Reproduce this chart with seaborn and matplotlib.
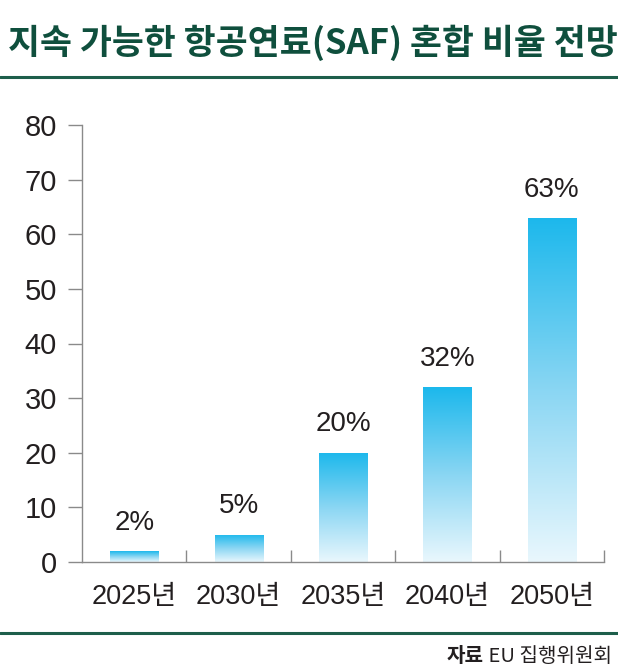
import numpy as np
import pandas as pd
import matplotlib
matplotlib.use("Agg")
import matplotlib.pyplot as plt
import seaborn as sns
from matplotlib.colors import LinearSegmentedColormap
from matplotlib.ticker import FixedLocator

years = ["2025년", "2030년", "2035년", "2040년", "2050년"]
values = [2, 5, 20, 32, 63]
bar_labels = ["2%", "5%", "20%", "32%", "63%"]
yticks = [0, 10, 20, 30, 40, 50, 60, 70, 80]
title = "지속 가능한 항공연료(SAF) 혼합 비율 전망"
source_bold = "자료"
source_rest = " EU 집행위원회"

sns.set_theme(style="white")
plt.rcParams["font.family"] = ["Noto Sans CJK KR", "DejaVu Sans"]

GREEN = "#0f4f3d"
TEXT = "#231f20"
AX = "#8a8a8a"

fig = plt.figure(figsize=(6.18, 6.70), dpi=100)
ax = fig.add_axes([82/618, 1-562/670, (604-82)/618, (562-125)/670])

df = pd.DataFrame({"year": years, "value": values})
sns.barplot(data=df, x="year", y="value", ax=ax, width=0.46, color="#1cb8ec",
            edgecolor="none", linewidth=0)

cmap = LinearSegmentedColormap.from_list("g", ["#e9f7fd", "#8ad6f3", "#1cb8ec"])
grad = np.linspace(0, 1, 256).reshape(-1, 1)
for p in ax.patches:
    x0, y0 = p.get_x(), p.get_y()
    w, h = p.get_width(), p.get_height()
    p.set_facecolor("none")
    im = ax.imshow(grad, cmap=cmap, aspect="auto", origin="lower",
                   extent=[x0, x0 + w, y0, y0 + h], zorder=2)
    im.set_clip_path(p)

for i, (v, lab) in enumerate(zip(values, bar_labels)):
    ax.annotate(lab, (i, v), xytext=(0, 11), textcoords="offset points",
                ha="center", va="bottom", fontsize=20, color=TEXT,
                family=["Liberation Sans", "DejaVu Sans"])

ax.set_xlim(-0.5, 4.5)
ax.set_ylim(0, 80)
ax.set_yticks(yticks)
ax.set_yticklabels([str(t) for t in yticks], fontsize=21, color=TEXT,
                   family=["Liberation Sans", "DejaVu Sans"])
ax.set_xticks(range(len(years)))
ax.set_xticklabels(years, fontsize=19.5, color=TEXT,
                   family=["Liberation Sans", "Noto Sans CJK KR", "DejaVu Sans"])
ax.xaxis.set_minor_locator(FixedLocator([0.5, 1.5, 2.5, 3.5, 4.5]))
ax.tick_params(axis="x", which="major", length=0, pad=16)
ax.tick_params(axis="x", which="minor", direction="in", length=9, width=1, color=AX, bottom=True)
ax.tick_params(axis="y", which="major", direction="out", length=10, width=1, color=AX, pad=8, left=True)
ax.set_xlabel("")
ax.set_ylabel("")
for s in ["top", "right"]:
    ax.spines[s].set_visible(False)
for s in ["left", "bottom"]:
    ax.spines[s].set_color(AX)
    ax.spines[s].set_linewidth(1)
ax.set_facecolor("white")

fig.text(8/618, 1-43/670, title, fontsize=25, fontweight="bold", color=GREEN,
         ha="left", va="center")
fig.add_artist(plt.Line2D([0, 1], [1-77/670, 1-77/670], color="#1d5e4b", linewidth=2.2))
fig.add_artist(plt.Line2D([0, 1], [1-633/670, 1-633/670], color="#1d5e4b", linewidth=2.2))

t = fig.text(612/618, 1-656/670, source_rest, fontsize=14.5, color=TEXT, ha="right", va="center")
fig.canvas.draw()
bb = t.get_window_extent()
fig.text(bb.x0/618, 1-656/670, source_bold, fontsize=14.5, fontweight="bold", color=TEXT,
         ha="right", va="center")

fig.savefig("out.png", dpi=100)
